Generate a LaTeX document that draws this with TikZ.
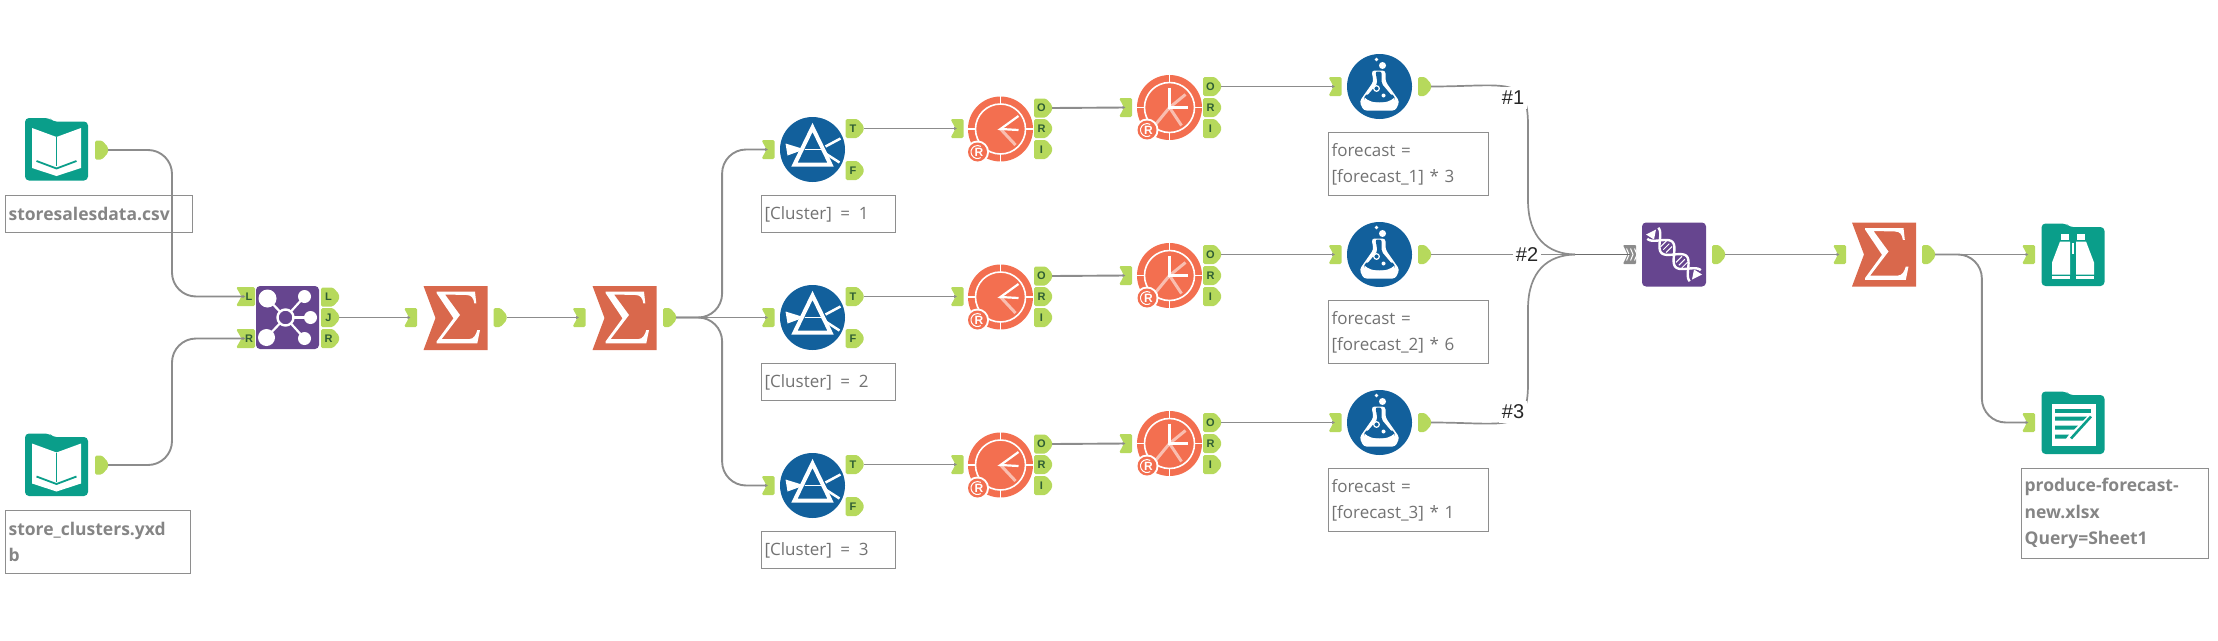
\documentclass[tikz,border=0pt]{standalone}
\usepackage{fontspec}
\setmainfont{Open Sans}
\newfontfamily\hashfont{Liberation Sans}
\usetikzlibrary{calc,arrows.meta}
\definecolor{ancc}{HTML}{B6D95C}
\definecolor{ltr}{HTML}{2F5E34}
\definecolor{teal}{HTML}{0A9E8A}
\definecolor{purp}{HTML}{66458F}
\definecolor{sumc}{HTML}{D9684C}
\definecolor{blu}{HTML}{12609C}
\definecolor{rtool}{HTML}{F36F50}
\definecolor{wirec}{HTML}{8C8C8C}
\definecolor{wired}{HTML}{6C6C6C}
\definecolor{boxc}{HTML}{8E8E8E}
\definecolor{txtc}{HTML}{727272}
\definecolor{txtb}{HTML}{858585}
\tikzset{
  ancbox/.style={minimum width=#1,minimum height=19pt,inner sep=0pt},
  ancfill/.style={fill=ancc,rounded corners=1.5pt},
  ltrnode/.style={inner sep=0pt,text=ltr,font=\fontsize{11}{11}\selectfont\bfseries\hashfont},
  toolnode/.style={minimum width=#1,minimum height=#1,inner sep=0pt},
  wire/.style={draw=wirec,line width=1.9pt,-{Latex[length=3pt,width=3.5pt]}},
  curved wire/.style={wire,rounded corners=24pt},
  tag/.style={draw=boxc,line width=1.2pt,anchor=north west,inner xsep=3pt,inner ysep=0pt,align=left,text=txtc,
     text width={#1pt-6pt},font=\fontsize{17}{26.5}\selectfont},
  tagfile/.style={tag=#1,text=txtb,font=\fontsize{17.5}{26.5}\selectfont\bfseries},
  hash/.style={fill=white,inner xsep=3pt,inner ysep=4pt,text=black!85,font=\fontsize{20}{20}\selectfont\hashfont},
}
\newcommand\outanc[3]{\begin{scope}[shift={(#2,#3)}]
  \fill[ancfill] (-6.5,-9.5) -- (0.5,-9.5) -- (6.5,-3) -- (6.5,3) -- (0.5,9.5) -- (-6.5,9.5) -- cycle;
  \node[ancbox=13pt] (#1) at (0,0) {};
\end{scope}}
\newcommand\inanc[3]{\begin{scope}[shift={(#2,#3)}]
  \fill[ancfill] (-6.5,-9.5) -- (6.5,-9.5) -- (6.5,9.5) -- (-6.5,9.5) -- (-1.5,0) -- cycle;
  \node[ancbox=13pt] (#1) at (0,0) {};
\end{scope}}
\newcommand\ltrout[4]{\begin{scope}[shift={(#2,#3)}]
  \fill[ancfill] (-9,-9.5) -- (3,-9.5) -- (9,-3) -- (9,3) -- (3,9.5) -- (-9,9.5) -- cycle;
  \node[ancbox=18pt] (#1) at (0,0) {};
  \node[ltrnode] (#1t) at (-1.5,0) {#4};
\end{scope}}
\newcommand\ltrin[4]{\begin{scope}[shift={(#2,#3)}]
  \fill[ancfill] (-9.5,-9.5) -- (9.5,-9.5) -- (9.5,9.5) -- (-9.5,9.5) -- (-4,0) -- cycle;
  \node[ancbox=19pt] (#1) at (0,0) {};
  \node[ltrnode] (#1t) at (3.5,0) {#4};
\end{scope}}
\newcommand\folder{\fill[teal,rounded corners=4pt] (-31.5,-31) -- (-7,-31) -- (-4,-27.5) -- (31.5,-27.5) -- (31.5,31.5) -- (-31.5,31.5) -- cycle;}
\newcommand\inputtool[3]{\begin{scope}[shift={(#2,#3)}]
  \folder
  \node[toolnode=63pt] (#1) at (0,0) {};
  \fill[white] (-24.5,-21) -- (0,-12) -- (24.5,-21) -- (24.5,19) -- (0,27) -- (-24.5,19) -- cycle;
  \draw[teal,line width=1.8pt] (0,-12) -- (0,17);
  \draw[teal,line width=1.8pt] (-20,12) -- (0,19.5) -- (20,12);
\end{scope}}
\newcommand\jointool[3]{\begin{scope}[shift={(#2,#3)}]
  \node[toolnode=63pt,fill=purp,rounded corners=4pt] (#1) at (0,0) {};
  \foreach \a/\b/\r in {-20/-19/9,17/-21/6.5,23/0/6.5,-21/20/8.5,17/21/6.5}{
    \draw[white,line width=2.2pt] (-2,0) -- (\a,\b);
    \fill[white] (\a,\b) circle (\r);}
  \draw[white,fill=purp,line width=2.4pt] (-2,0) circle (8);
\end{scope}}
\newcommand\sumtool[3]{\begin{scope}[shift={(#2,#3)}]
  \fill[sumc] (-32,-32) -- (32,-32) -- (32,32) -- (-32,32) -- (-20,0) -- cycle;
  \node[toolnode=64pt] (#1) at (0,0) {};
  \fill[white] (-18.8,-26.3) -- (19.5,-26.3) -- (20.8,-14.7) -- (18.8,-14.7) .. controls (18,-20) and (16,-23) .. (11,-23) -- (-10.5,-23.5) -- (4.5,-3) -- (-13.8,21) -- (14,21) .. controls (18,21) and (20.5,17) .. (21.8,12) -- (24.5,12) -- (21.8,25.3) -- (-18.8,25.3) -- (-18.8,23.3) -- (-2,0.3) -- (-18.8,-24.7) -- cycle;
\end{scope}}
\newcommand\filtertool[3]{\begin{scope}[shift={(#2,#3)}]
  \node[toolnode=65pt,circle,fill=blu] (#1) at (0,0) {};
  \draw[white,line width=4pt,line join=miter] (0,-22) -- (-18,15) -- (18,15) -- cycle;
  \fill[white] (-27,-6) -- (-14,-2) -- (-8,0) -- (-14,2) -- (-25,6) -- cycle;
  \draw[white,line width=1pt] (-8,0) -- (10,0);
  \draw[white,line width=2.5pt] (13,-3) -- (28,-11);
  \draw[white,line width=2.5pt] (13,4) -- (27,13);
\end{scope}}
\newcommand\rbase{\fill[rtool] (0,0) circle (32.5);
  \draw[white,line width=1.6pt] (0,0) circle (25);
  \foreach \a in {0,90,180,270}{\draw[white,line width=1.6pt] (\a:25) -- (\a:34);}}
\newcommand\rbadge[2]{\fill[white] (#1,#2) circle (11.5);
  \fill[rtool] (#1,#2) circle (9.5);
  \draw[white,line width=1pt] ($(#1,#2)+(60:6.5)$) arc (60:300:6.5);}
\newcommand\rone[3]{\begin{scope}[shift={(#2,#3)}]
  \rbase
  \node[toolnode=65pt,circle] (#1) at (0,0) {};
  \draw[white,line width=2.2pt] (18,-13) -- (0,0) -- (18,1);
  \draw[white,opacity=.55,line width=3pt] (0,0) -- (15,16);
  \rbadge{-23}{23}
  \node[inner sep=0pt,text=white,font=\fontsize{12}{12}\selectfont\bfseries\hashfont] (#1r) at (-21.5,23) {R};
\end{scope}}
\newcommand\rtwo[3]{\begin{scope}[shift={(#2,#3)}]
  \rbase
  \node[toolnode=65pt,circle] (#1) at (0,0) {};
  \draw[white,opacity=.55,line width=3pt] (0,0) -- (16,-13);
  \draw[white,opacity=.55,line width=3pt] (0,0) -- (-14,17);
  \draw[white,opacity=.55,line width=3pt] (0,0) -- (12,18);
  \draw[white,line width=2.2pt] (0,-20) -- (0,0) -- (18,0);
  \rbadge{-22.5}{22.5}
  \node[inner sep=0pt,text=white,font=\fontsize{12}{12}\selectfont\bfseries\hashfont] (#1r) at (-21,22.5) {R};
\end{scope}}
\newcommand\formulatool[3]{\begin{scope}[shift={(#2,#3)}]
  \node[toolnode=65pt,circle,fill=blu] (#1) at (0,0) {};
  \fill[white,rounded corners=3pt] (-8,-16) -- (6,-16) -- (6,-5) -- (20,15) -- (16,24) -- (-16,24) -- (-20,15) -- (-6,-5) -- cycle;
  \fill[blu,rounded corners=2pt] (-4,-15) -- (2,-15) -- (2,-3) -- (13,10) -- (-13,10) -- (-2,-3) -- cycle;
  \fill[blu] (-13,8) -- (13,8) .. controls (15,10) and (16,12) .. (15,13) .. controls (8,17) and (-8,17) .. (-15,13) .. controls (-16,11) and (-15,10) .. (-13,8);
  \fill[white] (-15,11) .. controls (-8,18) and (8,18) .. (15,11) .. controls (15,16) and (14,19) .. (12,21) -- (-12,21) .. controls (-14,19) and (-15,16) .. (-15,11);
  \draw[white,line width=1.2pt] (-3,2) circle (2.8);
  \fill[white] (4,9) circle (2);
  \fill[white] (3,-21) circle (3.5);
  \fill[white] (-3,-27) circle (1.9);
\end{scope}}
\newcommand\uniontool[3]{\begin{scope}[shift={(#2,#3)}]
  \node[toolnode=64pt,fill=purp,rounded corners=4pt] (#1) at (0,0) {};
  \draw[white,line width=2.4pt] plot[domain=-30:30,samples=41,smooth] ({0.707*\x+5.5*sin(\x*9)},{0.707*\x-5.5*sin(\x*9)});
  \draw[white,line width=2.4pt] plot[domain=-30:30,samples=41,smooth] ({0.707*\x-5.5*sin(\x*9)},{0.707*\x+5.5*sin(\x*9)});
  \foreach \t in {-15,-11,-7,7,11,15}{\draw[white,line width=1pt] ({0.707*\t+3},{0.707*\t-3}) -- ({0.707*\t-3},{0.707*\t+3});}
  \fill[white] (-28,-20) -- (-18,-25) -- (-20,-15) -- cycle;
  \fill[white] (28,20) -- (18,25) -- (20,15) -- cycle;
\end{scope}}
\newcommand\browsetool[3]{\begin{scope}[shift={(#2,#3)}]
  \folder
  \node[toolnode=63pt] (#1) at (0,0) {};
  \fill[white] (-12,-21) -- (-4,-21) -- (-4,-15) -- (-12,-15) -- cycle;
  \fill[white] (4,-21) -- (12,-21) -- (12,-15) -- (4,-15) -- cycle;
  \fill[white] (-13,-13) -- (-3,-13) -- (-3,2) -- (-3,20) -- (-21,20) -- (-21,8) -- cycle;
  \fill[white] (13,-13) -- (3,-13) -- (3,2) -- (3,20) -- (21,20) -- (21,8) -- cycle;
  \fill[white] (-1,-12) rectangle (1,-1);
  \fill[white] (-21,21.5) rectangle (-3,24);
  \fill[white] (3,21.5) rectangle (21,24);
\end{scope}}
\newcommand\outputtool[3]{\begin{scope}[shift={(#2,#3)}]
  \folder
  \node[toolnode=63pt] (#1) at (0,0) {};
  \fill[white] (-21,-19) rectangle (23,23);
  \fill[teal] (-18,-14) rectangle (18,-10);
  \fill[teal] (-18,-6) -- (14,-6) -- (10,-2) -- (-18,-2) -- cycle;
  \fill[teal] (-18,3) -- (5,3) -- (1,7) -- (-18,7) -- cycle;
  \fill[teal] (-18,12) -- (-4,12) -- (-7,16) -- (-18,16) -- cycle;
  \draw[teal,line width=2.6pt] (-2,16) -- (18,-6);
\end{scope}}
\begin{document}
\begin{tikzpicture}[x=1pt,y=-1pt]
\useasboundingbox (0,0) rectangle (2218,640);
% input tools
\inputtool{inA}{56.5}{149}
\outanc{inAo}{101.5}{150}
\inputtool{inB}{56.5}{464.5}
\outanc{inBo}{101.5}{465}
\node[tagfile=187,minimum height=37pt] (tagA) at (5,195) {storesalesdata.csv};
\node[tagfile=185,minimum height=63pt] (tagB) at (5,510) {store\_clusters.yxd\\b};
% join
\jointool{join}{287.5}{317.5}
\ltrin{joinL}{245.5}{296.5}{L}
\ltrin{joinR}{245.5}{338.5}{R}
\ltrout{joinOL}{330}{297}{L}
\ltrout{joinOJ}{330}{317.5}{J}
\ltrout{joinOR}{330}{338.5}{R}
% summarize
\sumtool{sumA}{455.5}{318}
\inanc{sumAi}{410.5}{317.5}
\outanc{sumAo}{500}{317.5}
\sumtool{sumB}{624.5}{318}
\inanc{sumBi}{579}{317.5}
\outanc{sumBo}{669.5}{317.5}
% three rows
\foreach \r/\d/\m in {1/0/3,2/168/6,3/336/1}{
  \filtertool{flt\r}{812.5}{149.5+\d}
  \inanc{flt\r i}{768}{149.5+\d}
  \ltrout{flt\r T}{854.5}{128.5+\d}{T}
  \ltrout{flt\r F}{854.5}{170.5+\d}{F}
  \node[tag=134,minimum height=37pt] (flt\r tag) at (761,195+\d) {[Cluster]\hspace{3pt} = \hspace{3pt}\r};
  \rone{ra\r}{1000.5}{129+\d}
  \inanc{ra\r i}{957}{128.5+\d}
  \ltrout{ra\r O}{1043}{108+\d}{O}
  \ltrout{ra\r R}{1043}{128.5+\d}{R}
  \ltrout{ra\r I}{1043}{149.5+\d}{I}
  \rtwo{rb\r}{1169.5}{107.5+\d}
  \inanc{rb\r i}{1125.5}{107.5+\d}
  \ltrout{rb\r O}{1212}{86.5+\d}{O}
  \ltrout{rb\r R}{1212}{107.5+\d}{R}
  \ltrout{rb\r I}{1212}{128.5+\d}{I}
  \formulatool{fm\r}{1379.5}{86.5+\d}
  \inanc{fm\r i}{1335}{86.5+\d}
  \outanc{fm\r o}{1424.5}{86.5+\d}
  \node[tag=160,minimum height=63pt] (fm\r tag) at (1328,132+\d) {forecast =\\{}[forecast\_\r] * \m};
  \draw[wire] (flt\r T.east) -- (ra\r i.center);
  \draw[wire] (ra\r O.east) -- (rb\r i.center);
  \draw[wire] (rb\r O.east) -- (fm\r i.center);
}
% union
\uniontool{un}{1674}{254.5}
\outanc{uno}{1718.5}{254.5}
\sumtool{sumC}{1884}{254.5}
\inanc{sumCi}{1839.5}{254.5}
\outanc{sumCo}{1928.5}{254.5}
\browsetool{brw}{2073}{254.5}
\inanc{brwi}{2028.5}{254.5}
\outputtool{outp}{2073}{422.5}
\inanc{outpi}{2028.5}{422.5}
\node[tagfile=187,minimum height=90pt] (tagC) at (2021,468) {produce-forecast-\\new.xlsx\\Query=Sheet1};
% connectors
\draw[curved wire] (inAo.east) -| ($(inAo.east)!0.5!(joinL.west)$) |- (joinL.center);
\draw[curved wire] (inBo.east) -| ($(inBo.east)!0.5!(joinR.west)$) |- (joinR.center);
\draw[wire] (joinOJ.east) -- (sumAi.center);
\draw[wire] (sumAo.east) -- (sumBi.center);
\draw[curved wire] (sumBo.east) -| ($(sumBo.east)!0.5!(flt1i.center)$) |- (flt1i.center);
\draw[wire] (sumBo.east) -- (flt2i.center);
\draw[curved wire] (sumBo.east) -| ($(sumBo.east)!0.5!(flt3i.center)$) |- (flt3i.center);
\draw[wire] (uno.east) -- (sumCi.center);
\draw[wire] (sumCo.east) -- (brwi.center);
\draw[curved wire] (sumCo.east) -| ($(sumCo.east)!0.5!(outpi.center)$) |- (outpi.center);
\coordinate (fan) at (1575,254.5);
\begin{scope}[shift={(1629.5,254.5)}]
  \fill[wirec,rounded corners=1pt] (-6.5,-9.5) -- (6.5,-9.5) -- (6.5,9.5) -- (-6.5,9.5) -- (-2,0) -- cycle;
  \foreach \a in {-3,1,5}{\draw[white,line width=1pt] (\a,-6) -- (\a+2.5,0) -- (\a,6);}
  \node[ancbox=13pt] (uni) at (0,0) {};
\end{scope}
\draw[draw=wirec,line width=1.7pt] (fm1o.east) .. controls +(75,0) and (1528,75) .. (1528,125) -- (1528,200) .. controls (1528,238) and (1548,254) .. (fan);
\draw[draw=wirec,line width=1.9pt] (fm2o.east) -- (fan);
\draw[draw=wirec,line width=1.7pt] (fm3o.east) .. controls +(75,0) and (1528,434) .. (1528,384) -- (1528,309) .. controls (1528,271) and (1548,255) .. (fan);
\draw[draw=wired,line width=1.9pt] (fan) -- (uni.center);
\node[hash] (h1) at (1513,98) {\#1};
\node[hash] (h2) at (1527,255) {\#2};
\node[hash] (h3) at (1513,412) {\#3};
\end{tikzpicture}
\end{document}
